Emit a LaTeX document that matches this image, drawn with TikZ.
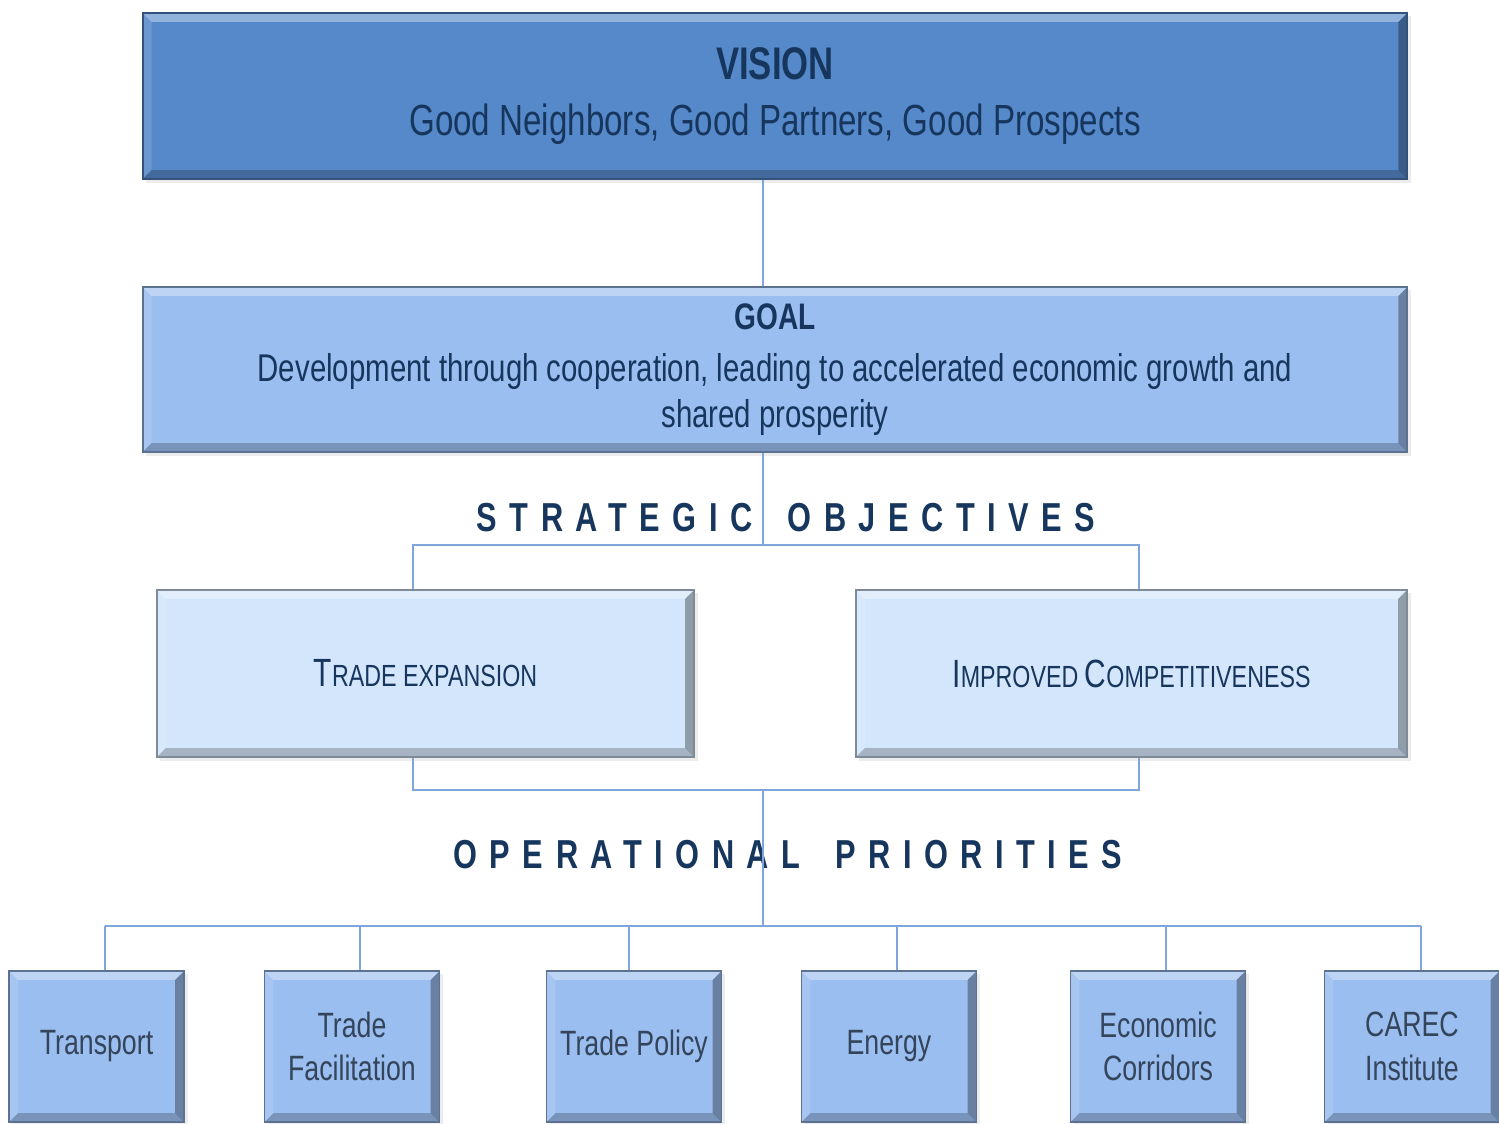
\documentclass[tikz,border=0pt]{standalone}
\usepackage{fontspec}
\setmainfont{Liberation Sans}[FakeStretch=0.76]
\newfontfamily\headfont{Liberation Sans}[FakeStretch=0.76, LetterSpace=31]
\usetikzlibrary{positioning, calc, shadows}
\definecolor{VisionBlue}{HTML}{5689C9}
\definecolor{GoalBlue}{HTML}{9BBEF0}
\definecolor{PaleBlue}{HTML}{D4E6FC}
\definecolor{LinkBlue}{HTML}{7FA6DA}
\definecolor{InkNavy}{HTML}{17365D}
\definecolor{InkGray}{HTML}{34455B}

% small-caps look: large first letter, smaller rest
\newcommand{\capword}[2]{{\fontsize{11.2}{14}\selectfont #1}{\fontsize{8.7}{12}\selectfont #2}}

\tikzset{
  bevel/.style={path picture={
    \path (path picture bounding box.north west) coordinate (bnw)
          (path picture bounding box.north east) coordinate (bne)
          (path picture bounding box.south west) coordinate (bsw)
          (path picture bounding box.south east) coordinate (bse);
    \fill[white, opacity=.35] (bnw) -- (bne) -- ++(-9,-9) -- ($(bnw)+(9,-9)$) -- cycle;
    \fill[black, opacity=.32] (bne) -- (bse) -- ++(-9,9) -- ($(bne)+(-9,-9)$) -- cycle;
    \fill[black, opacity=.22] (bsw) -- (bse) -- ++(-9,9) -- ($(bsw)+(9,9)$) -- cycle;
    \fill[white, opacity=.12] (bnw) -- (bsw) -- ++(9,9) -- ($(bnw)+(9,-9)$) -- cycle;
  }},
  panel/.style={draw=#1!60!black, line width=0.5pt, fill=#1, bevel,
    drop shadow={shadow xshift=1pt, shadow yshift=-1pt, opacity=.15},
    inner sep=0pt, align=center},
  widebox/.style={panel=#1, minimum width=12.64cm, minimum height=1.66cm, text=InkNavy},
  objbox/.style={panel=PaleBlue, minimum height=1.67cm, text=InkNavy},
  opbox/.style={panel=GoalBlue, minimum width=1.75cm, minimum height=1.51cm,
    text=InkGray, font=\fontsize{10}{12.4}\selectfont},
  heading/.style={text=InkNavy, font=\headfont\bfseries\fontsize{11.5}{12}\selectfont},
  link/.style={draw=LinkBlue, line width=0.8pt}
}

\begin{document}
\begin{tikzpicture}[x=0.01cm, y=0.01cm]
  \useasboundingbox[fill=white] (0,0) rectangle (1499,-1124);

  % --- top boxes ---
  \node[widebox=VisionBlue] (vision) at (775,-96)
    {\fontsize{13}{14}\selectfont\bfseries VISION\\[4pt]
     \fontsize{12.4}{15}\selectfont Good Neighbors, Good Partners, Good Prospects};
  \node[widebox=GoalBlue, minimum height=1.65cm, font=\fontsize{11}{13}\selectfont] (goal) at (775,-369.5)
    {\fontsize{10.5}{12}\selectfont\bfseries GOAL\\[2pt]
     Development through cooperation, leading to accelerated economic growth and\\
     shared prosperity};

  % --- strategic objectives ---
  \node[heading] (strat) at (786,-518) {STRATEGIC\hspace{4pt} OBJECTIVES};
  \node[objbox, minimum width=5.37cm] (expand) at (425.5,-673.5) {\capword{T}{RADE EXPANSION}};
  \node[objbox, minimum width=5.51cm] (compete) at (1131.5,-673.5)
    {\capword{I}{MPROVED }\capword{C}{OMPETITIVENESS}};

  % --- operational priorities ---
  \node[heading] (oper) at (788,-855) {OPERATIONAL\hspace{4pt} PRIORITIES};
  \node[opbox] (transport) at (96.5,-1046.5) {Transport};
  \node[opbox] (facil) at (352,-1046.5) {Trade\\Facilitation};
  \node[opbox] (policy) at (634,-1046.5) {Trade Policy};
  \node[opbox] (energy) at (889,-1046.5) {Energy};
  \node[opbox] (corridor) at (1158,-1046.5) {Economic\\Corridors};
  \node[opbox] (carec) at (1412,-1046.5) {CAREC\\Institute};

  % --- connectors ---
  \coordinate (bus1) at (763,-545);
  \coordinate (bus2) at (763,-790);
  \coordinate (bus3) at (763,-926);
  \coordinate (tapA) at (413,-545);
  \coordinate (tapB) at (1139,-545);
  \coordinate (opL) at (105,-926);
  \coordinate (opR) at (1421,-926);

  \draw[link] (vision.south -| bus1) -- (goal.north -| bus1);
  \draw[link] (goal.south -| bus1) -- (bus1);
  \draw[link] (expand.north -| tapA) -- (tapA) -- (tapB) -- (compete.north -| tapB);
  \draw[link] (expand.south -| tapA) |- (bus2) -| (compete.south -| tapB);
  \draw[link] (bus2) -- (bus3);
  \draw[link] (opL) -- (opR);
  \foreach \n/\x in {transport/105, facil/360, policy/629, energy/897, corridor/1166, carec/1421}{
    \coordinate (tap) at (\x,-926);
    \draw[link] (tap) -- (tap |- \n.north);
  }
\end{tikzpicture}
\end{document}
